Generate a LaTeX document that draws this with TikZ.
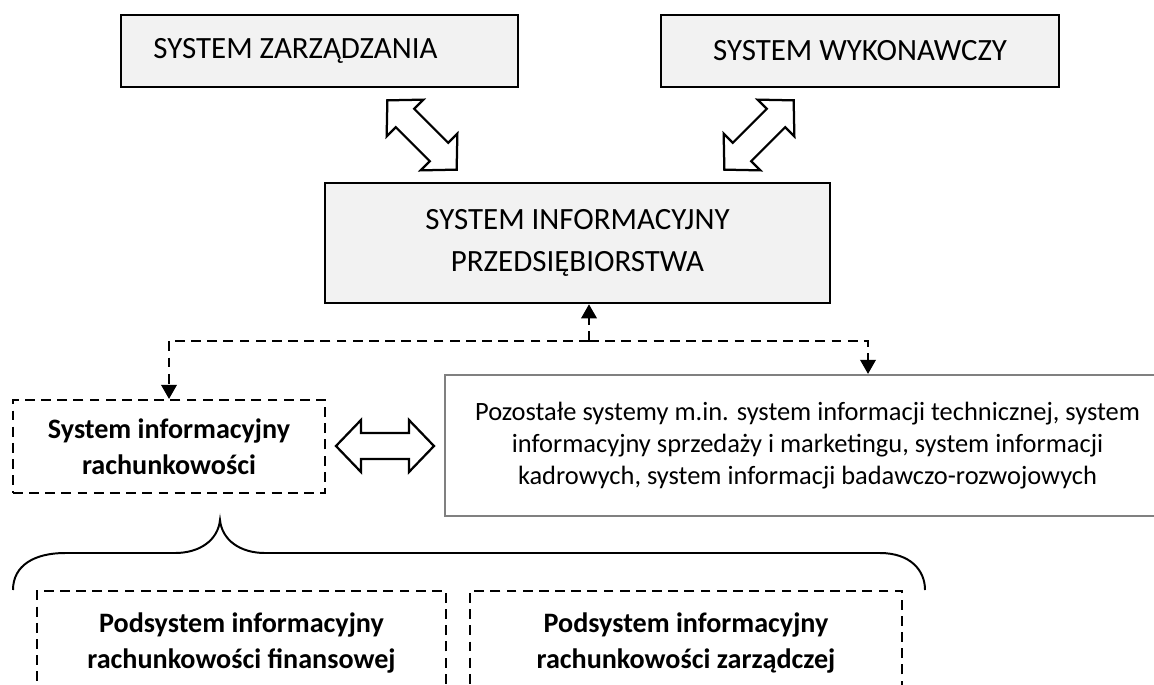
\documentclass[tikz,border=0pt]{standalone}
\usepackage{fontspec}
\setmainfont{Carlito}
\usepackage{tikz}
\usetikzlibrary{arrows.meta,positioning,calc}

\tikzset{
  sysbox/.style={draw=black, line width=1.8pt, fill=black!5, align=center, inner sep=0pt,
    font=\fontsize{22}{30}\selectfont},
  dashbox/.style={draw=black, line width=1.5pt, dash pattern=on 7pt off 4.5pt, align=center,
    inner sep=0pt, font=\fontsize{20}{25.6}\selectfont\bfseries},
  restbox/.style={draw=black!50, line width=1.5pt, align=center, inner sep=0pt,
    font=\fontsize{18.8}{22.8}\selectfont},
  link/.style={line width=1.5pt, dash pattern=on 7pt off 4.5pt},
  linkarr/.style={link, -{Triangle[width=11pt,length=10pt]}},
  blockarr/.style={draw=black, line width=1.6pt, fill=white, line join=miter},
}

\begin{document}
\begin{tikzpicture}[x=0.025cm, y=-0.025cm]
  \useasboundingbox (0,0) rectangle (1154,684);

  % upper level
  \node[sysbox, minimum width=9.925cm, minimum height=1.8cm] (zarz) at (319.5,51) {SYSTEM ZARZĄDZANIA\hspace*{1.2cm}};
  \node[sysbox, minimum width=9.95cm, minimum height=1.8cm] (wyk) at (860,51) {SYSTEM WYKONAWCZY};
  \node[sysbox, minimum width=12.625cm, minimum height=3cm] (info) at (577.5,243) {SYSTEM INFORMACYJNY\\PRZEDSIĘBIORSTWA};

  % block arrows
  \begin{scope}[shift={(422,135)}, rotate=-45]
    \draw[blockarr] (-49,0) -- (-24,-26) -- (-24,-13) -- (24,-13) -- (24,-26) -- (49,0)
      -- (24,26) -- (24,13) -- (-24,13) -- (-24,26) -- cycle;
  \end{scope}
  \begin{scope}[shift={(759,135)}, rotate=45]
    \draw[blockarr] (-49,0) -- (-24,-26) -- (-24,-13) -- (24,-13) -- (24,-26) -- (49,0)
      -- (24,26) -- (24,13) -- (-24,13) -- (-24,26) -- cycle;
  \end{scope}

  % lower level
  \node[dashbox, minimum width=7.8cm, minimum height=2.325cm] (sir) at (169,446.5) {System informacyjny\\rachunkowości};
  \node[restbox, minimum width=18.125cm, minimum height=3.525cm] (poz) at (807.5,445.5)
    {Pozostałe systemy m.in. system informacji technicznej, system\\
     informacyjny sprzedaży i marketingu, system informacji\\
     kadrowych, system informacji badawczo-rozwojowych};

  \begin{scope}[shift={($(sir.east)!0.5!(poz.west)$)}]
    \draw[blockarr] (-49,0) -- (-24,-26) -- (-24,-13) -- (24,-13) -- (24,-26) -- (49,0)
      -- (24,26) -- (24,13) -- (-24,13) -- (-24,26) -- cycle;
  \end{scope}

  % dashed links
  \coordinate (jn) at (589,341);
  \coordinate (jr) at (868,341);
  \draw[linkarr] (jn) -- (jn |- info.south);
  \draw[linkarr] (jn) -| (sir.north);
  \draw[linkarr] (jn) -| (jr |- poz.north);

  % subsystems
  \node[dashbox, minimum width=10.225cm, minimum height=2.6cm] (fin) at (241.5,643) {Podsystem informacyjny\\rachunkowości finansowej};
  \node[dashbox, minimum width=10.8cm, minimum height=2.6cm] (zarzc) at (686,643) {Podsystem informacyjny\\rachunkowości zarządczej};

  % brace
  \draw[line width=1.4pt] (13,590) .. controls (13,565) and (35,553) .. (65,553) -- (175,553)
    .. controls (200,553) and (218,540) .. (220,520) .. controls (222,540) and (240,553) .. (265,553)
    -- (880,553) .. controls (910,553) and (925,570) .. (925,590);
\end{tikzpicture}
\end{document}
